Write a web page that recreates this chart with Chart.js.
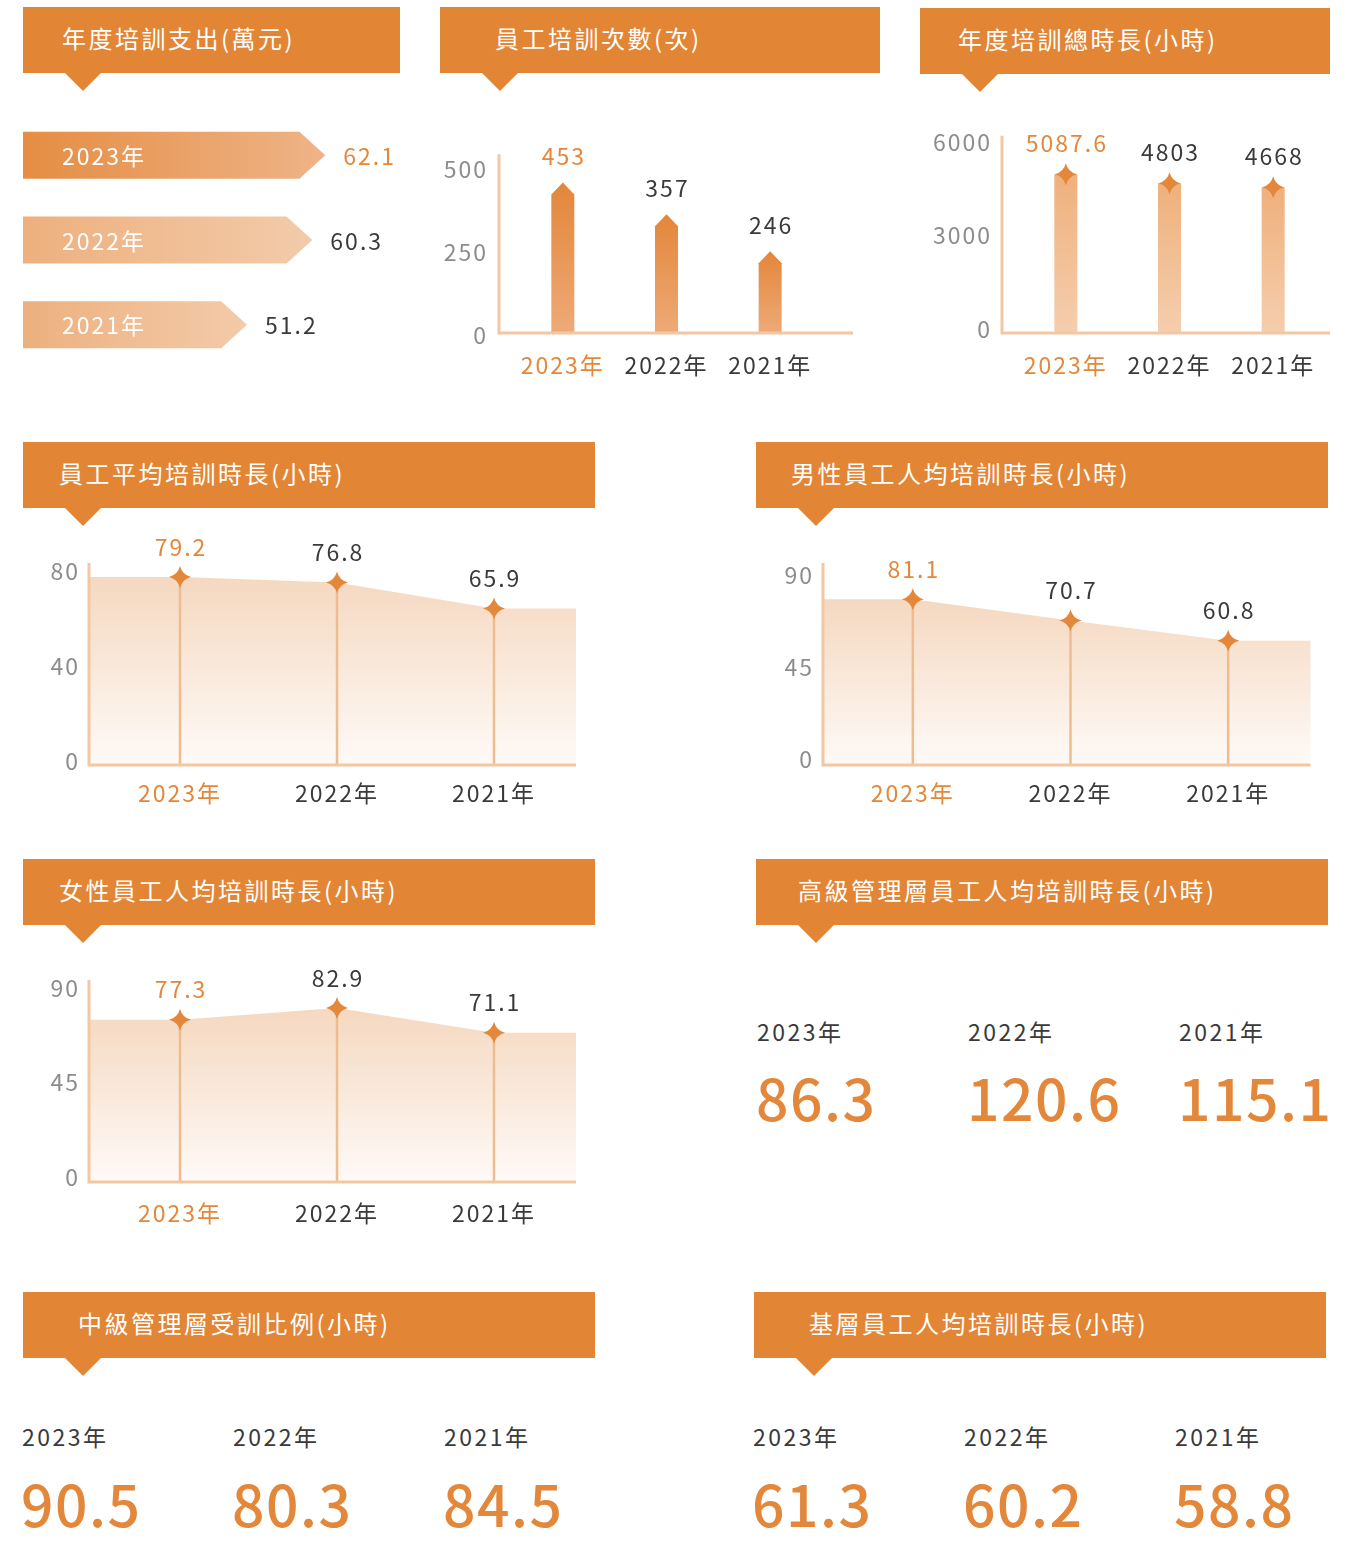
<!DOCTYPE html>
<html lang="zh-Hant">
<head>
<meta charset="utf-8">
<title>培訓數據</title>
<script src="https://cdn.jsdelivr.net/npm/chart.js@4.4.1/dist/chart.umd.min.js"></script>
<style>
  html, body { margin: 0; padding: 0; background: #fff; }
  body { position: relative; width: 1356px; height: 1541px; overflow: hidden;
         font-family: "Noto Sans CJK TC", "Noto Sans", sans-serif; }
  .hdr { position: absolute; height: 66px; background: #E28535; color: #fff; box-sizing: border-box;
         font-size: 24px; letter-spacing: 2.5px; line-height: 62px; white-space: nowrap; }
  .hdr::after { content: ""; position: absolute; left: 42px; top: 66px;
         border-left: 18px solid transparent; border-right: 18px solid transparent;
         border-top: 18px solid #E28535; }
  canvas { position: absolute; }
  .kpi-year { position: absolute; font-size: 23px; line-height: 23px; letter-spacing: 2.5px; color: #3a3a3a; white-space: nowrap; }
  .kpi-val { position: absolute; font-size: 57px; line-height: 57px; font-weight: 500; letter-spacing: 1.5px; color: #E3873A; white-space: nowrap; }
</style>
</head>
<body>
<script>
// ---- data ----
const years = ['2023年', '2022年', '2021年'];
const spendValues = [62.1, 60.3, 51.2];        // 年度培訓支出(萬元)
const sessionCounts = [453, 357, 246];         // 員工培訓次數(次)
const sessionTicks = [0, 250, 500];
const totalHours = [5087.6, 4803, 4668];       // 年度培訓總時長(小時)
const totalTicks = [0, 3000, 6000];
const avgHours = [79.2, 76.8, 65.9];           // 員工平均培訓時長
const avgTicks = [0, 40, 80];
const maleHours = [81.1, 70.7, 60.8];
const femaleHours = [77.3, 82.9, 71.1];
const genderTicks = [0, 45, 90];
const seniorHours = [86.3, 120.6, 115.1];
const middleRatio = [90.5, 80.3, 84.5];
const baseStaffHours = [61.3, 60.2, 58.8];

const ORANGE = '#E3873A', DARK = '#3a3a3a', GREY = '#8c8c8c', AXIS = '#F3C7A2';
const FONT = "'Noto Sans CJK TC', 'Noto Sans', sans-serif";

Chart.defaults.font.family = FONT;
Chart.defaults.font.size = 23;
Chart.defaults.animation = false;
Chart.defaults.responsive = false;
Chart.defaults.plugins.legend.display = false;
Chart.defaults.plugins.tooltip.enabled = false;

// canvas text gets the same loose tracking as the reference
Chart.register({
  id: 'spacing',
  beforeUpdate(chart) { chart.ctx.letterSpacing = '2px'; },
  beforeDraw(chart) { chart.ctx.letterSpacing = '2px'; }
});

// ---- headers ----
const headers = [
  { title: '年度培訓支出(萬元)', x: 23, y: 7, w: 377, pad: 39 },
  { title: '員工培訓次數(次)', x: 440, y: 7, w: 440, pad: 55 },
  { title: '年度培訓總時長(小時)', x: 920, y: 8, w: 410, pad: 38 },
  { title: '員工平均培訓時長(小時)', x: 23, y: 442, w: 572, pad: 36 },
  { title: '男性員工人均培訓時長(小時)', x: 756, y: 442, w: 572, pad: 35 },
  { title: '女性員工人均培訓時長(小時)', x: 23, y: 859, w: 572, pad: 36 },
  { title: '高級管理層員工人均培訓時長(小時)', x: 756, y: 859, w: 572, pad: 42 },
  { title: '中級管理層受訓比例(小時)', x: 23, y: 1292, w: 572, pad: 55 },
  { title: '基層員工人均培訓時長(小時)', x: 754, y: 1292, w: 572, pad: 55 }
];
headers.forEach(h => {
  const d = document.createElement('div');
  d.className = 'hdr';
  d.textContent = h.title;
  Object.assign(d.style, { left: h.x + 'px', top: h.y + 'px', width: h.w + 'px', paddingLeft: h.pad + 'px' });
  document.body.appendChild(d);
});

function addCanvas(x, y, w, h) {
  const c = document.createElement('canvas');
  c.width = w; c.height = h;
  c.style.left = x + 'px'; c.style.top = y + 'px';
  document.body.appendChild(c);
  return c;
}

function yScale(ticks, o) {
  return {
    min: ticks[0], max: ticks[ticks.length - 1],
    afterBuildTicks: s => { s.ticks = ticks.map(v => ({ value: v })); },
    afterFit: s => { s.width = o.width; },
    grid: { display: false, drawTicks: false }, border: { display: false },
    ticks: { color: GREY, padding: o.pad, labelOffset: o.shift || 0, callback: v => String(v) }
  };
}
function xScale(height, pad) {
  return {
    offset: true,
    afterFit: s => { s.height = height; },
    grid: { display: false, drawTicks: false }, border: { display: false },
    ticks: { color: c => c.index === 0 ? ORANGE : DARK, padding: pad, maxRotation: 0, autoSkip: false }
  };
}

function star(ctx, x, y, r) {
  const c = r * 0.2;
  ctx.beginPath();
  ctx.moveTo(x, y - r);
  ctx.quadraticCurveTo(x + c, y - c, x + r, y);
  ctx.quadraticCurveTo(x + c, y + c, x, y + r);
  ctx.quadraticCurveTo(x - c, y + c, x - r, y);
  ctx.quadraticCurveTo(x - c, y - c, x, y - r);
  ctx.fillStyle = ORANGE;
  ctx.fill();
}

function drawAxes(chart, o) {
  const { ctx, chartArea: a } = chart;
  const x0 = a.left - o.gap;
  ctx.save();
  ctx.strokeStyle = AXIS;
  ctx.lineWidth = 3;
  ctx.beginPath();
  ctx.moveTo(x0, a.top - o.over);
  ctx.lineTo(x0, a.bottom);
  ctx.lineTo(a.right + o.extend, a.bottom);
  ctx.stroke();
  ctx.restore();
}

function drawValues(chart, values, lift) {
  const ctx = chart.ctx;
  ctx.save();
  ctx.font = '23px ' + FONT;
  ctx.textAlign = 'center';
  ctx.textBaseline = 'middle';
  chart.getDatasetMeta(0).data.forEach((el, i) => {
    ctx.fillStyle = i === 0 ? ORANGE : DARK;
    ctx.fillText(String(values[i]), el.x + 1, el.y - lift);
  });
  ctx.restore();
}

// ---- 1. arrow bars: 年度培訓支出 ----
const spendAxisMin = 20;
new Chart(addCanvas(0, 100, 430, 290), {
  type: 'bar',
  data: { labels: years, datasets: [{ data: spendValues, base: spendAxisMin, backgroundColor: 'rgba(0,0,0,0)', barThickness: 47 }] },
  options: {
    indexAxis: 'y',
    layout: { autoPadding: false, padding: { left: 23, top: 13, right: 48, bottom: 23 } },
    scales: { x: { display: false, min: spendAxisMin, max: 70 }, y: { display: false } }
  },
  plugins: [{
    id: 'arrows',
    afterDatasetsDraw(chart) {
      const ctx = chart.ctx;
      const fills = [['#E58D43', '#EEB488'], ['#EDB07E', '#F3CBAA'], ['#EDB07E', '#F3CBAA']];
      chart.getDatasetMeta(0).data.forEach((bar, i) => {
        const { x, y, base, height } = bar.getProps(['x', 'y', 'base', 'height'], true);
        const top = y - height / 2, bot = y + height / 2, head = height * 0.55;
        const g = ctx.createLinearGradient(base, 0, x, 0);
        g.addColorStop(0, fills[i][0]);
        g.addColorStop(1, fills[i][1]);
        ctx.save();
        ctx.beginPath();
        ctx.moveTo(base, top);
        ctx.lineTo(x - head, top);
        ctx.lineTo(x, y);
        ctx.lineTo(x - head, bot);
        ctx.lineTo(base, bot);
        ctx.closePath();
        ctx.fillStyle = g;
        ctx.fill();
        ctx.font = '23px ' + FONT;
        ctx.textBaseline = 'middle';
        ctx.fillStyle = '#fff';
        ctx.fillText(years[i], base + 39, y + 1);
        ctx.fillStyle = i === 0 ? ORANGE : DARK;
        ctx.fillText(String(spendValues[i]), x + 18, y + 1);
        ctx.restore();
      });
    }
  }]
});

// ---- 2. pointed bars: 員工培訓次數 ----
new Chart(addCanvas(430, 130, 440, 260), {
  type: 'bar',
  data: { labels: years, datasets: [{ data: sessionCounts, backgroundColor: 'rgba(0,0,0,0)', barThickness: 23 }] },
  options: {
    layout: { autoPadding: false, padding: { left: 0, top: 35.5, right: 48, bottom: 0 } },
    scales: { x: xScale(57, 18), y: yScale(sessionTicks, { width: 81, pad: 23, shift: 2 }) }
  },
  plugins: [{
    id: 'pointed',
    afterDatasetsDraw(chart) {
      const ctx = chart.ctx;
      chart.getDatasetMeta(0).data.forEach(bar => {
        const { x, y, base, width } = bar.getProps(['x', 'y', 'base', 'width'], true);
        const half = width / 2;
        const g = ctx.createLinearGradient(0, y, 0, base);
        g.addColorStop(0, '#E3863A');
        g.addColorStop(1, '#EEAA77');
        ctx.save();
        ctx.beginPath();
        ctx.moveTo(x - half, base);
        ctx.lineTo(x - half, y + 12);
        ctx.lineTo(x, y);
        ctx.lineTo(x + half, y + 12);
        ctx.lineTo(x + half, base);
        ctx.closePath();
        ctx.fillStyle = g;
        ctx.fill();
        ctx.restore();
      });
      drawAxes(chart, { gap: 12, over: 12.5, extend: 31 });
      drawValues(chart, sessionCounts, 26);
    }
  }]
});

// ---- 3. bars with stars: 年度培訓總時長 ----
new Chart(addCanvas(910, 110, 446, 280), {
  type: 'bar',
  data: { labels: years, datasets: [{ data: totalHours, backgroundColor: 'rgba(0,0,0,0)', barThickness: 23 }] },
  options: {
    layout: { autoPadding: false, padding: { left: 0, top: 33, right: 31, bottom: 0 } },
    scales: { x: xScale(57, 18), y: yScale(totalTicks, { width: 104, pad: 22, shift: -4 }) }
  },
  plugins: [{
    id: 'starBars',
    afterDatasetsDraw(chart) {
      const ctx = chart.ctx;
      const meta = chart.getDatasetMeta(0);
      meta.data.forEach(bar => {
        const { x, y, base, width } = bar.getProps(['x', 'y', 'base', 'width'], true);
        const g = ctx.createLinearGradient(0, y, 0, base);
        g.addColorStop(0, '#EFB07C');
        g.addColorStop(1, '#F5CEAE');
        ctx.save();
        ctx.fillStyle = g;
        ctx.fillRect(x - width / 2, y, width, base - y);
        ctx.restore();
      });
      drawAxes(chart, { gap: 12, over: 10, extend: 5 });
      meta.data.forEach(bar => star(ctx, bar.x, bar.y, 11));
      drawValues(chart, totalHours, 31);
    }
  }]
});

// ---- 4-6. shaded area charts ----
function areaChart(canvas, values, ticks, lay) {
  return new Chart(canvas, {
    type: 'line',
    data: { labels: years, datasets: [{ data: values, showLine: false, pointRadius: 0 }] },
    options: {
      layout: { autoPadding: false, padding: { left: 0, top: lay.top, right: lay.right, bottom: 0 } },
      scales: {
        x: xScale(lay.xh, lay.xpad),
        y: yScale(ticks, { width: lay.yw, pad: lay.ypad, shift: lay.shift })
      }
    },
    plugins: [{
      id: 'area',
      beforeDatasetsDraw(chart) {
        const { ctx, chartArea: a } = chart;
        const pts = chart.getDatasetMeta(0).data;
        const left = a.left - lay.gap, right = a.right + 3.5;
        const topY = Math.min(...pts.map(p => p.y));
        const g = ctx.createLinearGradient(0, topY, 0, a.bottom);
        g.addColorStop(0, '#F5D8C0');
        g.addColorStop(1, '#FEFAF7');
        ctx.save();
        ctx.beginPath();
        ctx.moveTo(left, a.bottom);
        ctx.lineTo(left, pts[0].y);
        pts.forEach(p => ctx.lineTo(p.x, p.y));
        ctx.lineTo(right, pts[pts.length - 1].y);
        ctx.lineTo(right, a.bottom);
        ctx.closePath();
        ctx.fillStyle = g;
        ctx.fill();
        ctx.strokeStyle = '#EFBC8F';
        ctx.lineWidth = 2.5;
        pts.forEach(p => {
          ctx.beginPath();
          ctx.moveTo(p.x, p.y);
          ctx.lineTo(p.x, a.bottom);
          ctx.stroke();
        });
        ctx.restore();
      },
      afterDatasetsDraw(chart) {
        drawAxes(chart, { gap: lay.gap, over: lay.over, extend: 3.5 });
        chart.getDatasetMeta(0).data.forEach(p => star(chart.ctx, p.x, p.y, 11));
        drawValues(chart, values, 30);
      }
    }]
  });
}

areaChart(addCanvas(20, 530, 580, 290), avgHours, avgTicks,
  { top: 45, right: 27.5, xh: 55, xpad: 14, yw: 81.5, ypad: 21.5, shift: -4, gap: 12.5, over: 12 });
areaChart(addCanvas(750, 530, 600, 290), maleHours, genderTicks,
  { top: 51, right: 43, xh: 55, xpad: 14, yw: 84, ypad: 20, shift: -6, gap: 11, over: 18 });
areaChart(addCanvas(20, 945, 580, 300), femaleHours, genderTicks,
  { top: 48, right: 27.5, xh: 63, xpad: 17, yw: 81.5, ypad: 21.5, shift: -5, gap: 12.5, over: 13 });

// ---- 7-9. figure panels ----
const kpiBlocks = [
  { values: seniorHours, xs: [757, 968, 1179], yearY: 1033, valueY: 1101 },
  { values: middleRatio, xs: [22, 233, 444], yearY: 1438, valueY: 1507 },
  { values: baseStaffHours, xs: [753, 964, 1175], yearY: 1438, valueY: 1507 }
];
kpiBlocks.forEach(b => {
  b.values.forEach((v, i) => {
    const y = document.createElement('div');
    y.className = 'kpi-year';
    y.textContent = years[i];
    y.style.left = b.xs[i] + 'px';
    y.style.top = (b.yearY - 13) + 'px';
    document.body.appendChild(y);
    const n = document.createElement('div');
    n.className = 'kpi-val';
    n.textContent = String(v);
    n.style.left = (b.xs[i] - 1) + 'px';
    n.style.top = (b.valueY - 33) + 'px';
    document.body.appendChild(n);
  });
});
</script>
</body>
</html>
